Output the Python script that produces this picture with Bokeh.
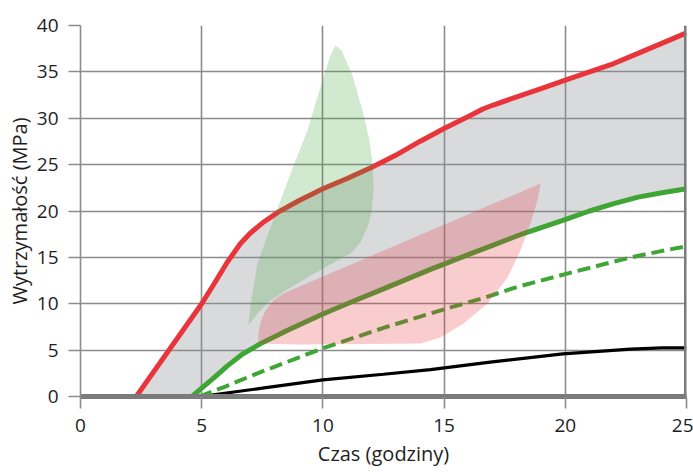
from bokeh.plotting import figure
from bokeh.models import Range1d, FixedTicker, Span, Title
from bokeh.embed import file_html
from bokeh.resources import INLINE

# ---- data ----
x_ticks = [0, 5, 10, 15, 20, 25]
y_ticks = [0, 5, 10, 15, 20, 25, 30, 35, 40]

red_x = [2.3, 5.0, 5.5, 6.06, 6.6, 7.0, 7.5, 8.17, 9.0, 10.0, 11.0, 12.0,
         13.0, 14.0, 15.0, 16.0, 16.6, 17.0, 18.0, 19.0, 20.0, 21.0, 22.0, 23.0, 24.0, 25.0]
red_y = [0.0, 10.0, 12.1, 14.5, 16.5, 17.6, 18.7, 19.9, 21.1, 22.4, 23.5, 24.7,
         26.0, 27.5, 28.9, 30.2, 31.0, 31.4, 32.3, 33.2, 34.1, 35.0, 35.9, 37.0, 38.1, 39.2]

green_x = [4.6, 5.0, 5.5, 6.06, 6.7, 7.43, 8.5, 10.0, 11.0, 12.5, 14.44, 16.0, 17.0, 18.3,
           19.9, 21.0, 22.0, 23.0, 24.05, 25.0]
green_y = [0.0, 0.9, 2.0, 3.3, 4.6, 5.7, 7.1, 8.9, 10.0, 11.6, 13.7, 15.3, 16.3, 17.6,
           19.0, 20.0, 20.8, 21.5, 22.0, 22.4]

dash_x = [4.9, 6.0, 7.3, 8.5, 10.0, 12.5, 15.0, 16.6, 18.0, 20.0, 21.5, 22.7, 24.0, 25.0]
dash_y = [0.0, 1.1, 2.5, 3.7, 5.2, 7.4, 9.4, 10.6, 11.8, 13.2, 14.2, 15.0, 15.7, 16.2]

black_x = [4.95, 7.5, 10.0, 12.5, 14.44, 16.9, 19.9, 22.7, 24.0, 25.0]
black_y = [0.0, 0.9, 1.8, 2.4, 2.9, 3.7, 4.6, 5.1, 5.25, 5.25]

leaf_x = [6.93, 7.01, 7.30, 7.76, 8.25, 8.79, 9.36, 10.02, 10.31, 10.52, 10.77, 11.22, 11.67,
          11.92, 12.05, 12.09, 12.02, 11.85, 11.55, 11.14, 10.31, 9.36, 8.46, 7.84, 7.34, 7.05]
leaf_y = [7.76, 9.81, 14.34, 17.68, 21.13, 24.91, 28.68, 34.39, 36.77, 37.84, 37.30, 34.61, 30.51,
          27.60, 25.12, 22.21, 20.10, 18.30, 16.60, 15.42, 14.23, 12.83, 11.43, 10.35, 9.06, 8.09]

pink_x = [7.34, 9.08, 14.03, 14.85, 15.80, 16.79, 17.62, 18.15, 18.56, 18.85, 18.98,
          8.37, 7.96, 7.63, 7.43, 7.34]
pink_y = [5.71, 5.61, 5.71, 6.36, 7.87, 10.03, 12.83, 15.74, 18.65, 21.13, 22.97,
          11.11, 10.35, 9.27, 7.98, 6.79]

RED = "#e8343a"
GREEN = "#3fa535"
GRID = "#8c8c8c"
AXIS = "#7b7b7b"
FONT = "Open Sans"

p = figure(width=693, height=473, x_range=Range1d(0, 25), y_range=Range1d(0, 40),
           output_backend="svg", toolbar_location=None,
           min_border_left=80, min_border_right=7, min_border_top=25, min_border_bottom=77)
p.outline_line_color = None
p.background_fill_color = "white"

# grey band between red and green curves
band_x = red_x + green_x[::-1] + [red_x[0]]
band_y = red_y + green_y[::-1] + [0.0]
p.patch(band_x, band_y, fill_color="#d9dadc", line_color=None, level="image")

# grid
for g, t in ((p.xgrid, x_ticks), (p.ygrid, y_ticks)):
    g.ticker = FixedTicker(ticks=t)
    g.grid_line_color = GRID
    g.grid_line_width = 1.6
    g.level = "underlay"

# lines
p.line(black_x, black_y, line_color="black", line_width=3.2)
p.line(dash_x, dash_y, line_color=GREEN, line_width=4, line_dash="13 6")
p.line(green_x, green_y, line_color=GREEN, line_width=5)
p.line(red_x, red_y, line_color=RED, line_width=5, line_join="round")

# translucent patches
p.patch(leaf_x, leaf_y, fill_color=GREEN, fill_alpha=0.24, line_color=None)
p.patch(pink_x, pink_y, fill_color=RED, fill_alpha=0.25, line_color=None)

# right border
p.add_layout(Span(location=25, dimension="height", line_color=AXIS, line_width=5))

# axes
for ax, t in ((p.xaxis, x_ticks), (p.yaxis, y_ticks)):
    ax.ticker = FixedTicker(ticks=t)
    ax.major_tick_out = 12
    ax.major_tick_in = 0
    ax.minor_tick_out = 0
    ax.minor_tick_in = 0
    ax.major_tick_line_color = GRID
    ax.major_tick_line_width = 1.6
    ax.major_label_text_font = FONT
    ax.major_label_text_font_size = "19px"
    ax.major_label_text_color = "#1e1e1e"
p.xaxis.axis_line_color = AXIS
p.xaxis.axis_line_width = 5
p.xaxis.major_label_standoff = 10
p.yaxis.axis_line_color = GRID
p.yaxis.axis_line_width = 1.6
p.yaxis.major_label_standoff = 10

p.add_layout(Title(text="Czas (godziny)", align="center", offset=15, standoff=6,
                   text_font=FONT, text_font_size="20px", text_font_style="normal",
                   text_color="#1e1e1e"), "below")
p.add_layout(Title(text="Wytrzymałość (MPa)", align="center", offset=22, standoff=2,
                   text_font=FONT, text_font_size="20px", text_font_style="normal",
                   text_color="#1e1e1e"), "left")

open("out.html", "w").write(file_html(p, INLINE))
